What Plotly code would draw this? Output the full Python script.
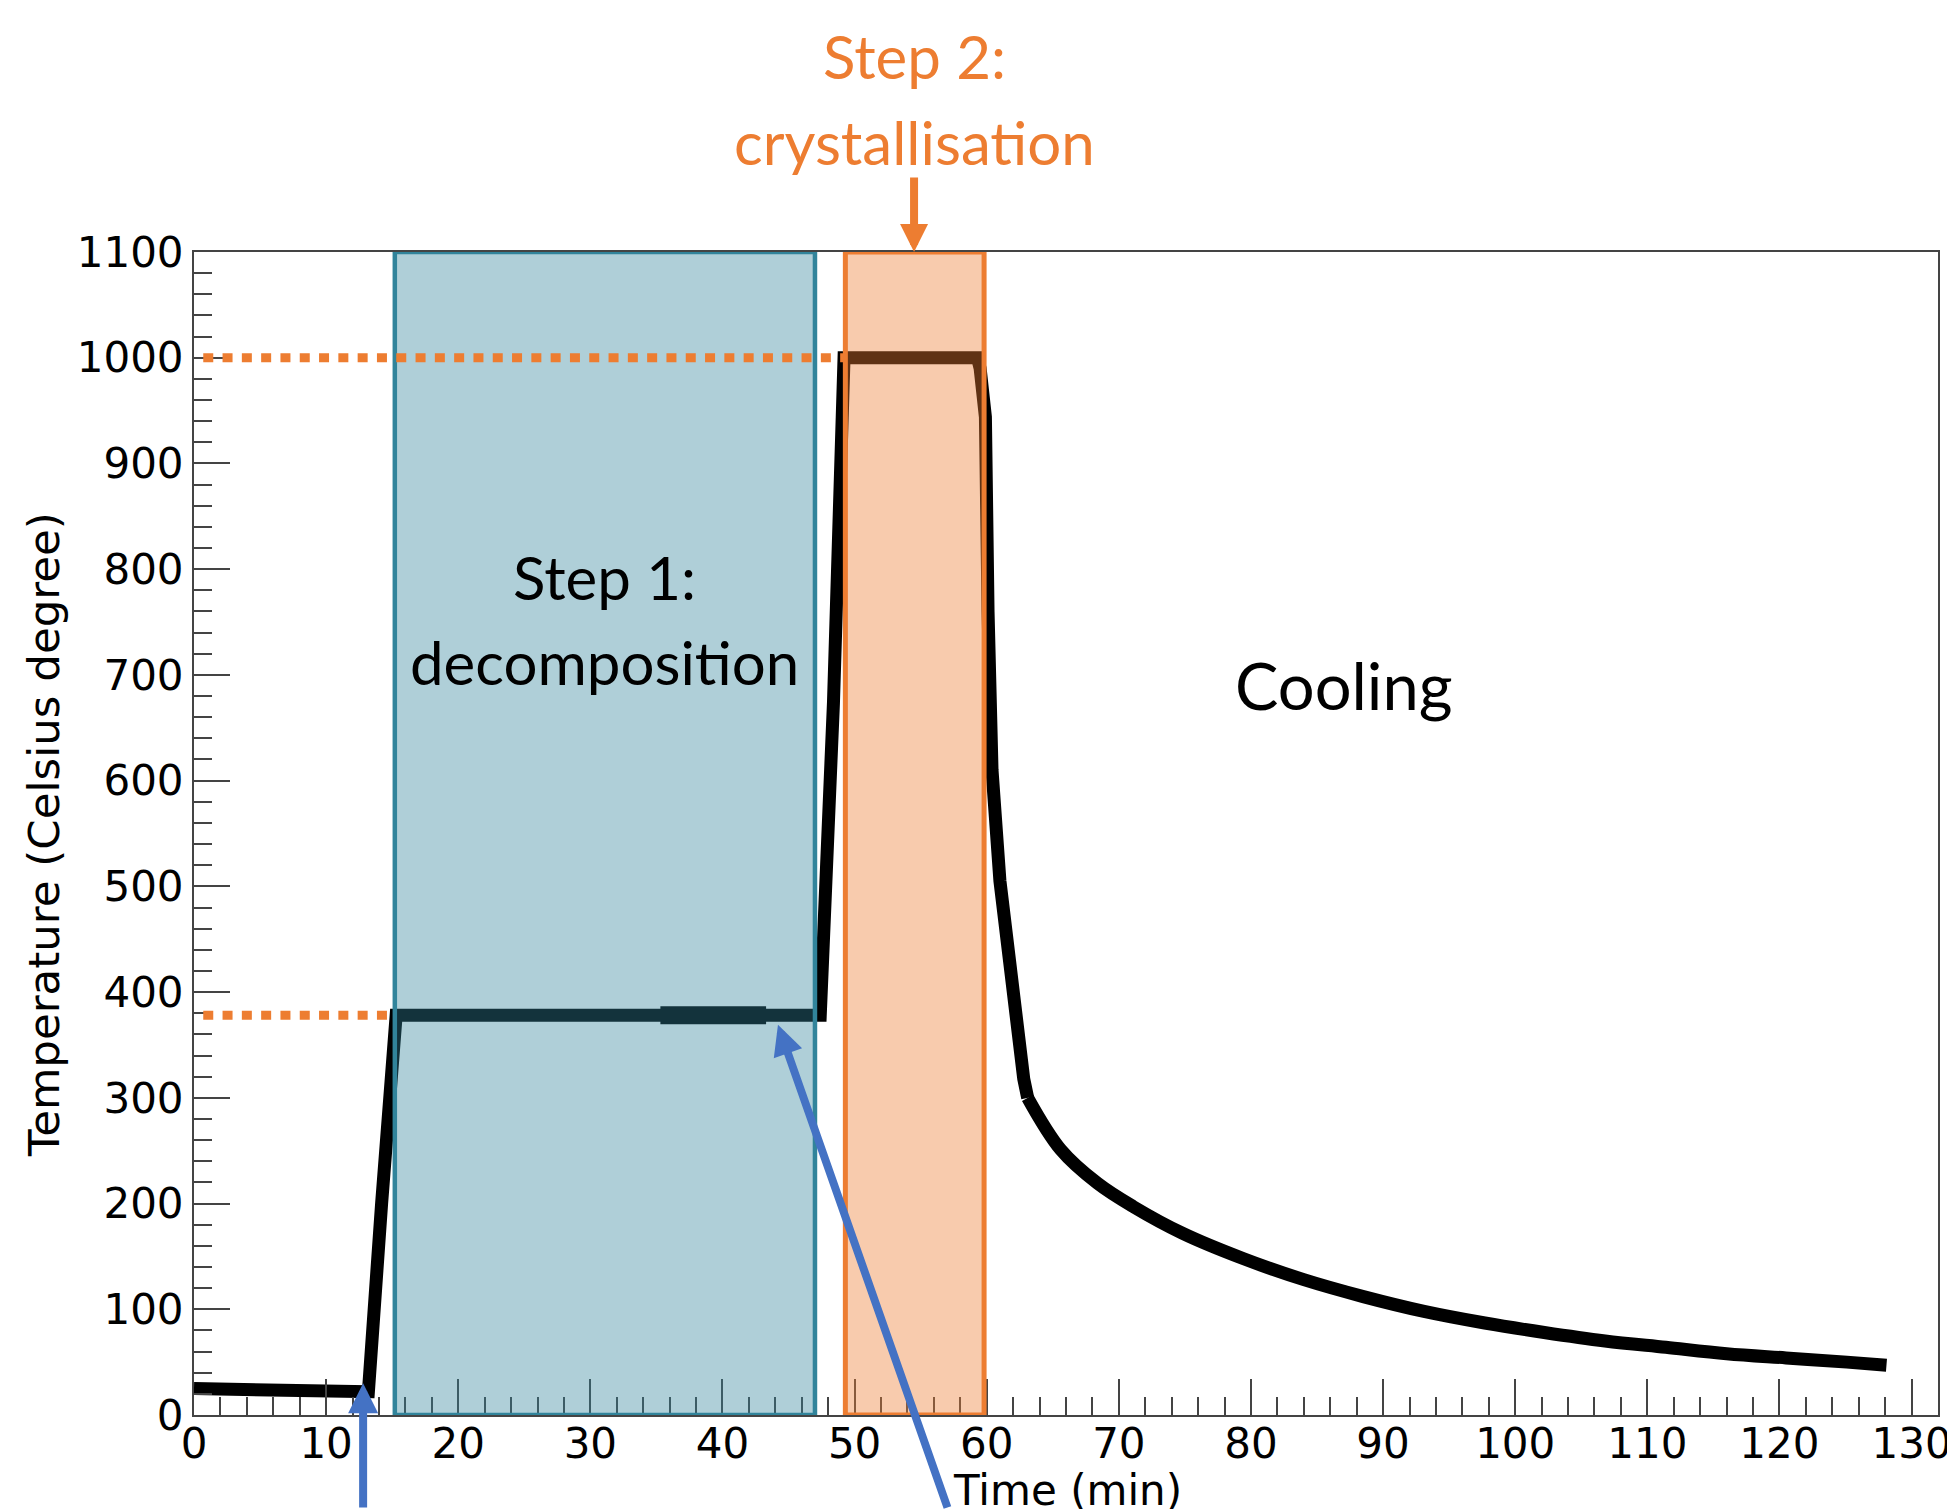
import plotly.graph_objects as go

# ---------------- data ----------------
# heating, holds and the fast initial drop (straight segments)
time_hold = [0, 5, 10, 13.2, 14.2, 15.3, 20, 25, 30, 35.3, 40, 43.3, 47.4, 48.4, 49.2,
             54, 59.3, 59.5, 59.9, 60.1, 60.4, 61.0, 61.8, 62.3, 62.8, 63.1]
temp_hold = [25, 23, 22, 22, 200, 378, 378, 378, 378, 378, 378, 378, 378, 674, 1000,
             1000, 1000, 990, 944, 760, 610, 505, 410, 355, 318, 300]

# slow natural cooling (smooth curve)
time_cool = [63.1, 65.6, 68.4, 71.1, 74.8, 79.4, 84.0, 88.5, 93.1, 97.7, 102.2, 106.8,
             111.4, 116.0, 120.5, 125.1, 128.1]
temp_cool = [300, 251, 219, 197, 172, 148, 128, 112, 98, 87, 78, 70,
             64, 58, 54, 50, 47]

# noisier stretch of the 378 degree hold
noisy_time = [35.3, 37.0, 39.0, 41.0, 43.3]
noisy_temp = [378, 378, 378, 378, 378]

x_tick_vals = [0, 10, 20, 30, 40, 50, 60, 70, 80, 90, 100, 110, 120, 130]
x_tick_text = ["0", "10", "20", "30", "40", "50", "60", "70", "80", "90", "100", "110", "120", "130"]
y_tick_vals = [0, 100, 200, 300, 400, 500, 600, 700, 800, 900, 1000, 1100]
y_tick_text = ["0", "100", "200", "300", "400", "500", "600", "700", "800", "900", "1000", "1100"]

x_range = [0, 132]
y_range = [0, 1100]

step1_window = [15.2, 47.0]     # decomposition
step2_window = [49.3, 59.8]     # crystallisation
hold_temps = [378, 1000]        # dotted guide levels
guide_start = 0.7

# arrow targets (data coordinates)
arrow_start_heating = [12.8, 30]
arrow_end_hold = [44.2, 369]
arrow_step2 = [54.5, 1100]

# ---------------- styles ----------------
TEAL = "#31849B"
TEAL_FILL = "rgba(49,132,155,0.39)"
ORANGE = "#ED7D31"
ORANGE_FILL = "rgba(237,125,49,0.40)"
BLUE = "#4472C4"
AXIS = "#444444"
TICK_FONT = dict(family="DejaVu Sans", size=42, color="black")
LABEL_FONT = "Lato"
LW = 13

fig = go.Figure()

fig.add_trace(go.Scatter(x=time_hold, y=temp_hold, mode="lines",
                         line=dict(color="black", width=LW),
                         showlegend=False, hoverinfo="skip"))
fig.add_trace(go.Scatter(x=time_cool, y=temp_cool, mode="lines",
                         line=dict(color="black", width=LW, shape="spline", smoothing=1.0),
                         showlegend=False, hoverinfo="skip"))
fig.add_trace(go.Scatter(x=noisy_time, y=noisy_temp, mode="lines",
                         line=dict(color="black", width=18),
                         showlegend=False, hoverinfo="skip"))

# step windows (drawn above the curve, translucent fill)
fig.add_shape(type="rect", xref="x", yref="y",
              x0=step1_window[0], x1=step1_window[1], y0=y_range[0], y1=y_range[1],
              fillcolor=TEAL_FILL, line=dict(color=TEAL, width=4.5), layer="above")
fig.add_shape(type="rect", xref="x", yref="y",
              x0=step2_window[0], x1=step2_window[1], y0=y_range[0], y1=y_range[1],
              fillcolor=ORANGE_FILL, line=dict(color=ORANGE, width=5), layer="above")

# dotted guide lines
fig.add_shape(type="line", xref="x", yref="y",
              x0=guide_start, x1=step1_window[0], y0=hold_temps[0], y1=hold_temps[0],
              line=dict(color=ORANGE, width=9, dash="10px,9.3px"), layer="above")
fig.add_shape(type="line", xref="x", yref="y",
              x0=guide_start, x1=step2_window[0], y0=hold_temps[1], y1=hold_temps[1],
              line=dict(color=ORANGE, width=9, dash="10px,9.3px"), layer="above")

# texts
mid1 = (step1_window[0] + step1_window[1]) / 2
fig.add_annotation(x=mid1, y=793, xref="x", yref="y", text="Step 1:", showarrow=False,
                   font=dict(family=LABEL_FONT, size=60, color="black"),
                   xanchor="center", yanchor="middle")
fig.add_annotation(x=mid1, y=712, xref="x", yref="y", text="decomposition", showarrow=False,
                   font=dict(family=LABEL_FONT, size=60, color="black"),
                   xanchor="center", yanchor="middle")
fig.add_annotation(x=87.05, y=690, xref="x", yref="y", text="Cooling", showarrow=False,
                   font=dict(family=LABEL_FONT, size=65, color="black"),
                   xanchor="center", yanchor="middle")
fig.add_annotation(x=0.4134, y=1.1685, xref="paper", yref="paper", text="Step 2:", showarrow=False,
                   font=dict(family=LABEL_FONT, size=60, color=ORANGE),
                   xanchor="center", yanchor="middle")
fig.add_annotation(x=0.4134, y=1.0946, xref="paper", yref="paper", text="crystallisation", showarrow=False,
                   font=dict(family=LABEL_FONT, size=60, color=ORANGE),
                   xanchor="center", yanchor="middle")

# arrows
fig.add_annotation(x=arrow_step2[0], y=arrow_step2[1], xref="x", yref="y", text="",
                   showarrow=True, ax=0, ay=-76, arrowhead=2, arrowsize=0.7,
                   arrowwidth=8, arrowcolor=ORANGE)
fig.add_annotation(x=arrow_start_heating[0], y=arrow_start_heating[1], xref="x", yref="y", text="",
                   showarrow=True, ax=0, ay=140, arrowhead=2, arrowsize=0.75,
                   arrowwidth=8, arrowcolor=BLUE)
fig.add_annotation(x=arrow_end_hold[0], y=arrow_end_hold[1], xref="x", yref="y", text="",
                   showarrow=True, ax=170, ay=505, arrowhead=2, arrowsize=0.75,
                   arrowwidth=8, arrowcolor=BLUE)

# axis titles
fig.add_annotation(x=0.501, y=-0.0645, xref="paper", yref="paper", text="Time (min)",
                   showarrow=False, font=dict(family="DejaVu Sans", size=42, color="black"),
                   xanchor="center", yanchor="middle")
fig.add_annotation(x=-0.0860, y=0.4987, xref="paper", yref="paper",
                   text="Temperature (Celsius degree)", textangle=-90,
                   showarrow=False, font=dict(family="DejaVu Sans", size=43.5, color="black"),
                   xanchor="center", yanchor="middle")

fig.update_xaxes(range=x_range, tickmode="array", tickvals=x_tick_vals, ticktext=x_tick_text,
                 ticks="inside", ticklen=36, tickwidth=2, tickcolor=AXIS,
                 showline=True, linecolor=AXIS, linewidth=2, mirror=True,
                 showgrid=False, zeroline=False, tickfont=TICK_FONT,
                 ticklabeloverflow="allow", ticklabelstandoff=-9,
                 minor=dict(tickmode="linear", tick0=0, dtick=2, ticks="inside",
                            ticklen=18, tickwidth=1.5, tickcolor=AXIS, showgrid=False))
fig.update_yaxes(range=y_range, tickmode="array", tickvals=y_tick_vals, ticktext=y_tick_text,
                 ticks="inside", ticklen=36, tickwidth=2, tickcolor=AXIS,
                 showline=True, linecolor=AXIS, linewidth=2, mirror=True,
                 showgrid=False, zeroline=False, tickfont=TICK_FONT,
                 ticklabeloverflow="allow",
                 minor=dict(tickmode="linear", tick0=0, dtick=20, ticks="inside",
                            ticklen=18, tickwidth=1.5, tickcolor=AXIS, showgrid=False))

fig.update_layout(width=1947, height=1509,
                  margin=dict(l=194, r=9, t=252, b=94, autoexpand=False),
                  plot_bgcolor="white", paper_bgcolor="white",
                  showlegend=False)

fig.write_html("out.html", config={"displayModeBar": False},
               post_script="document.body.style.margin='0px';document.body.style.overflow='hidden';")
